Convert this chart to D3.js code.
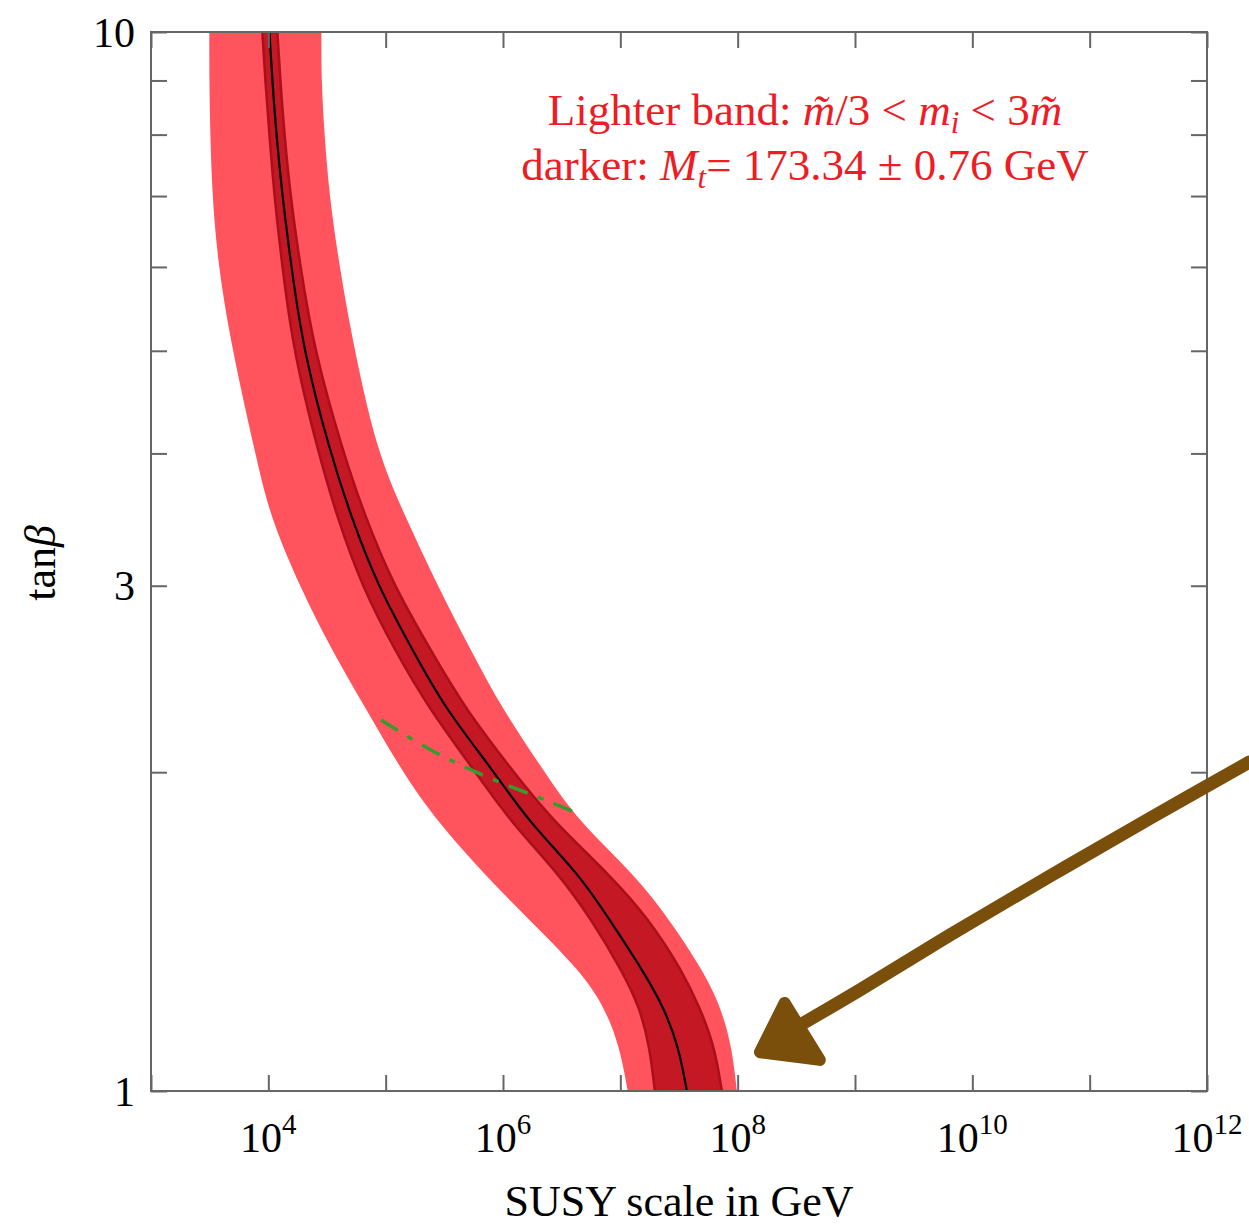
<!DOCTYPE html>
<html><head><meta charset="utf-8">
<script src="https://cdn.jsdelivr.net/npm/d3@7"></script>
<style>body{margin:0;background:#fff} svg{display:block} text{font-family:"Liberation Serif","Times New Roman",serif}</style>
</head><body><svg id="c" width="1249" height="1229"></svg>
<script>
// tan(beta) sample rows
const tanBeta = [10,9,8,7,6,5,4,3.5,3,2.6,2.3,2,1.8,1.6,1.45,1.3,1.2,1.1,1.0];
// log10(SUSY scale / GeV) for each row
const centralLog = [4.009,4.034,4.068,4.119,4.196,4.299,4.529,4.700,4.930,5.237,5.502,5.928,6.210,6.654,6.910,7.191,7.370,7.498,7.567];
const lightLoLog = [3.497,3.497,3.505,3.522,3.573,3.693,3.889,4.009,4.265,4.546,4.828,5.143,5.433,5.843,6.227,6.654,6.867,6.995,7.063];
const lightHiLog = [4.452,4.452,4.478,4.520,4.606,4.734,4.930,5.161,5.442,5.732,5.988,6.355,6.637,7.123,7.422,7.703,7.857,7.951,7.993];
const darkLoLog  = [3.949,3.974,4.009,4.051,4.119,4.213,4.427,4.580,4.794,5.084,5.365,5.766,6.056,6.483,6.756,7.012,7.165,7.251,7.294];
const darkHiLog  = [4.077,4.102,4.137,4.188,4.273,4.392,4.640,4.819,5.067,5.391,5.672,6.090,6.423,6.910,7.251,7.524,7.677,7.805,7.865];
// green dot-dashed curve
const greenLog = [4.96,5.416,5.886,6.398,6.671];
const greenTan = [2.24,2.09,1.975,1.875,1.822];
// hand-drawn arrow (log10 scale, tan beta)
const arrowShaftLog = [12.362,11.517,10.664,9.811,9.043,8.531];
const arrowShaftTan = [2.045,1.810,1.596,1.404,1.246,1.154];
const arrowHeadLog = [8.40,8.19,8.70];
const arrowHeadTan = [1.211,1.088,1.070];
// ticks
const xTickExp = [3,4,5,6,7,8,9,10,11,12];
const xLabelExp = [4,6,8,10,12];
const yTicks = [1,2,3,4,5,6,7,8,9,10];
const yLabels = [1,3,10];

const W=1249,H=1229;
const m={left:151,top:32,right:1207,bottom:1091};
const svg=d3.select("#c");
const x=d3.scaleLog().domain([1e3,1e12]).range([m.left,m.right]);
const y=d3.scaleLog().domain([1,10]).range([m.bottom,m.top]);
const X=e=>x(Math.pow(10,e));

svg.append("defs").append("clipPath").attr("id","clip").append("rect")
  .attr("x",m.left).attr("y",m.top).attr("width",m.right-m.left).attr("height",m.bottom-m.top);

const rows=tanBeta.map((t,i)=>({t,c:centralLog[i],ll:lightLoLog[i],lh:lightHiLog[i],dl:darkLoLog[i],dh:darkHiLog[i]}));
const g=svg.append("g").attr("clip-path","url(#clip)");

const areaL=d3.area().y(d=>y(d.t)).x0(d=>X(d.ll)).x1(d=>X(d.lh)).curve(d3.curveBasis);
const areaD=d3.area().y(d=>y(d.t)).x0(d=>X(d.dl)).x1(d=>X(d.dh)).curve(d3.curveBasis);
g.append("path").datum(rows).attr("d",areaL).attr("fill","#ff535e");
g.append("path").datum(rows).attr("d",areaD).attr("fill","#c41824").attr("stroke","#a9101b").attr("stroke-width",2.5);
g.append("path").datum(rows).attr("d",d3.line().y(d=>y(d.t)).x(d=>X(d.c)).curve(d3.curveBasis))
  .attr("fill","none").attr("stroke","#000").attr("stroke-width",2.2);

const gr=greenLog.map((v,i)=>[X(v),y(greenTan[i])]);
g.append("path").attr("d",d3.line().curve(d3.curveCatmullRom)(gr)).attr("fill","none")
  .attr("stroke","#3a9a2e").attr("stroke-width",3.5).attr("stroke-dasharray","20,11,6,11");

// frame & ticks
const axisCol="#666";
svg.append("rect").attr("x",m.left).attr("y",m.top).attr("width",m.right-m.left).attr("height",m.bottom-m.top)
  .attr("fill","none").attr("stroke",axisCol).attr("stroke-width",2);
const xt=xTickExp.map(e=>Math.pow(10,e));
const ab=svg.append("g").attr("transform",`translate(0,${m.bottom})`)
  .call(d3.axisBottom(x).tickValues(xt).tickSize(-16).tickFormat(""));
const at=svg.append("g").attr("transform",`translate(0,${m.top})`)
  .call(d3.axisTop(x).tickValues(xt).tickSize(-16).tickFormat(""));
const al=svg.append("g").attr("transform",`translate(${m.left},0)`)
  .call(d3.axisLeft(y).tickValues(yTicks).tickSize(-16).tickFormat(""));
const ar=svg.append("g").attr("transform",`translate(${m.right},0)`)
  .call(d3.axisRight(y).tickValues(yTicks).tickSize(-16).tickFormat(""));
[ab,at,al,ar].forEach(a=>{a.select(".domain").remove();a.selectAll("line").attr("stroke",axisCol).attr("stroke-width",2);});

// x labels
xLabelExp.forEach(e=>{
  const t=svg.append("text").attr("x",x(Math.pow(10,e))).attr("y",1152).attr("text-anchor","middle")
    .attr("font-size",42).attr("fill","#000");
  t.append("tspan").text("10");
  t.append("tspan").attr("font-size",29).attr("dy",-18).text(e);
});
// y labels
yLabels.forEach(v=>{
  svg.append("text").attr("x",135).attr("y",y(v)).attr("dy","0.35em").attr("text-anchor","end")
    .attr("font-size",42).attr("fill","#000").text(v);
});
// axis titles
svg.append("text").attr("x",(m.left+m.right)/2).attr("y",1216).attr("text-anchor","middle")
  .attr("font-size",44).attr("fill","#000").text("SUSY scale in GeV");
const yl=svg.append("text").attr("transform","translate(55,563) rotate(-90)").attr("text-anchor","middle")
  .attr("font-size",44).attr("fill","#000");
yl.append("tspan").text("tan");
yl.append("tspan").attr("font-style","italic").text("β");

// legend text
const red="#ee1c25";
const l1=svg.append("text").attr("x",805).attr("y",125).attr("text-anchor","middle").attr("fill",red).attr("font-size",45);
l1.append("tspan").text("Lighter band: ");
l1.append("tspan").attr("font-style","italic").text("m\u0303");
l1.append("tspan").text("/3 < ");
l1.append("tspan").attr("font-style","italic").text("m");
l1.append("tspan").attr("font-style","italic").attr("font-size",31).attr("dy",8).text("i");
l1.append("tspan").attr("dy",-8).text(" < 3");
l1.append("tspan").attr("font-style","italic").text("m\u0303");
const l2=svg.append("text").attr("x",805).attr("y",180).attr("text-anchor","middle").attr("fill",red).attr("font-size",45);
l2.append("tspan").text("darker: ");
l2.append("tspan").attr("font-style","italic").text("M");
l2.append("tspan").attr("font-style","italic").attr("font-size",31).attr("dy",8).text("t");
l2.append("tspan").attr("dy",-8).text("= 173.34 ± 0.76 GeV");

// arrow
const brown="#7a4f0b";
const sh=arrowShaftLog.map((v,i)=>[X(v),y(arrowShaftTan[i])]);
svg.append("path").attr("d",d3.line().curve(d3.curveCatmullRom)(sh)).attr("fill","none")
  .attr("stroke",brown).attr("stroke-width",13).attr("stroke-linecap","round");
const hd=arrowHeadLog.map((v,i)=>[X(v),y(arrowHeadTan[i])]);
svg.append("path").attr("d",d3.line()(hd)+"Z").attr("fill",brown).attr("stroke",brown)
  .attr("stroke-width",12).attr("stroke-linejoin","round");
</script></body></html>
